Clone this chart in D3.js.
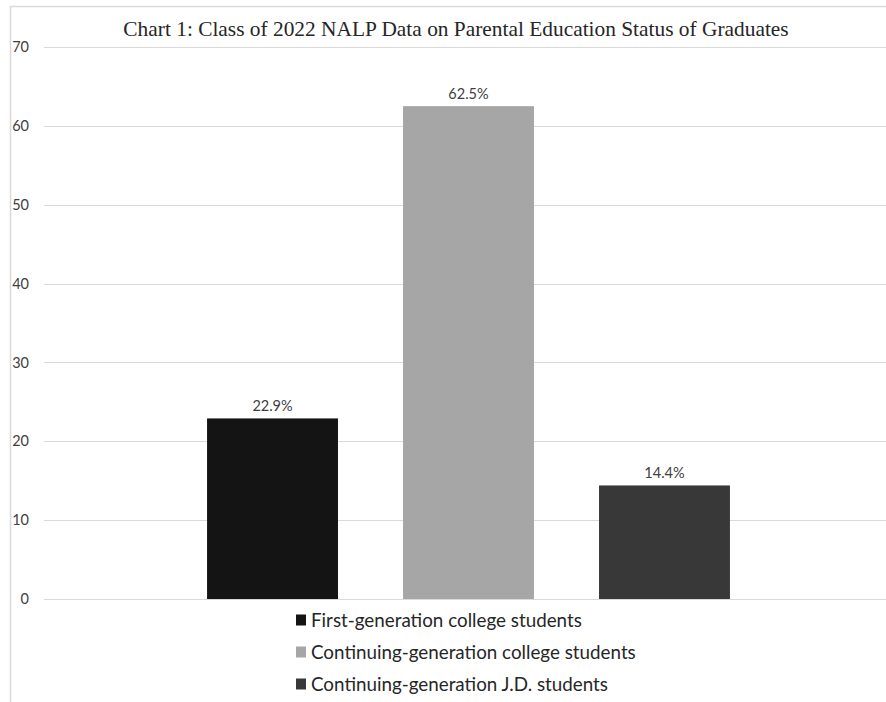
<!DOCTYPE html>
<html><head><meta charset="utf-8">
<script src="https://cdn.jsdelivr.net/npm/d3@7"></script>
<style>
html,body{margin:0;padding:0;background:#fff;}
svg{display:block;}
</style></head>
<body>
<svg id="chart" width="886" height="702"></svg>
<script>
const titleText = "Chart 1: Class of 2022 NALP Data on Parental Education Status of Graduates";
const seriesNames = ["First-generation college students", "Continuing-generation college students", "Continuing-generation J.D. students"];
const seriesValues = [22.9, 62.5, 14.4];
const valueLabels = ["22.9%", "62.5%", "14.4%"];
const seriesColors = ["#141414", "#a6a6a6", "#383838"];
const yTicks = [0, 10, 20, 30, 40, 50, 60, 70];

const svg = d3.select("#chart");
const W = 886, H = 702;
const plot = {left: 44, right: 893, top: 47, bottom: 599};

// chart frame
svg.append("line").attr("x1", 10).attr("x2", W).attr("y1", 6.5).attr("y2", 6.5).attr("stroke", "#d9d9d9").attr("stroke-width", 1.5);
svg.append("line").attr("x1", 10.5).attr("x2", 10.5).attr("y1", 6).attr("y2", H).attr("stroke", "#d9d9d9").attr("stroke-width", 1.5);

const y = d3.scaleLinear().domain([0, 70]).range([plot.bottom, plot.top]);
const x = d3.scaleBand().domain(seriesNames).range([plot.left, plot.right]).paddingInner(0.332).paddingOuter(0.832);

// gridlines
svg.append("g").selectAll("line").data(yTicks).join("line")
  .attr("x1", plot.left).attr("x2", W)
  .attr("y1", d => Math.round(y(d)) + 0.5).attr("y2", d => Math.round(y(d)) + 0.5)
  .attr("stroke", "#d9d9d9").attr("stroke-width", 1.2);

// y axis labels
const yAxis = d3.axisLeft(y).tickValues(yTicks).tickSize(0).tickPadding(0);
const ga = svg.append("g").attr("transform", "translate(29,0)").call(yAxis);
ga.select(".domain").remove();
ga.selectAll("text").attr("font-family", "Lato, 'Open Sans', sans-serif").attr("font-size", 14.5).attr("fill", "#404040");

// bars
svg.append("g").selectAll("rect").data(seriesNames).join("rect")
  .attr("x", d => x(d)).attr("width", x.bandwidth())
  .attr("y", (d, i) => y(seriesValues[i]))
  .attr("height", (d, i) => y(0) - y(seriesValues[i]))
  .attr("fill", (d, i) => seriesColors[i]);

// value labels
svg.append("g").selectAll("text").data(seriesNames).join("text")
  .attr("x", d => x(d) + x.bandwidth() / 2)
  .attr("y", (d, i) => y(seriesValues[i]) - 7)
  .attr("text-anchor", "middle")
  .attr("font-family", "Lato, 'Open Sans', sans-serif").attr("font-size", 14.5).attr("fill", "#404040")
  .text((d, i) => valueLabels[i]);

// title
const t = svg.append("text").attr("x", 456).attr("y", 36).attr("text-anchor", "middle")
  .attr("font-family", "'Liberation Serif', 'Times New Roman', serif").attr("font-size", 21).attr("fill", "#262626")
  .text(titleText);
const tw = t.node().getComputedTextLength();
t.attr("font-size", 21 * 666 / tw);

// legend
const legend = svg.append("g").attr("transform", "translate(296,0)");
const rowY = [620, 652, 684];
const items = legend.selectAll("g").data(seriesNames).join("g")
  .attr("transform", (d, i) => `translate(0,${rowY[i]})`);
items.append("rect").attr("x", 0).attr("y", -5.5).attr("width", 10).attr("height", 11)
  .attr("fill", (d, i) => seriesColors[i]);
const lt = items.append("text").attr("x", 15).attr("y", 0).attr("dy", "0.35em")
  .attr("font-family", "Lato, 'Open Sans', sans-serif").attr("font-size", 17).attr("fill", "#262626")
  .text(d => d);
const lw = lt.nodes()[1].getComputedTextLength();
lt.attr("font-size", 17 * 325 / lw);
</script>
</body></html>
